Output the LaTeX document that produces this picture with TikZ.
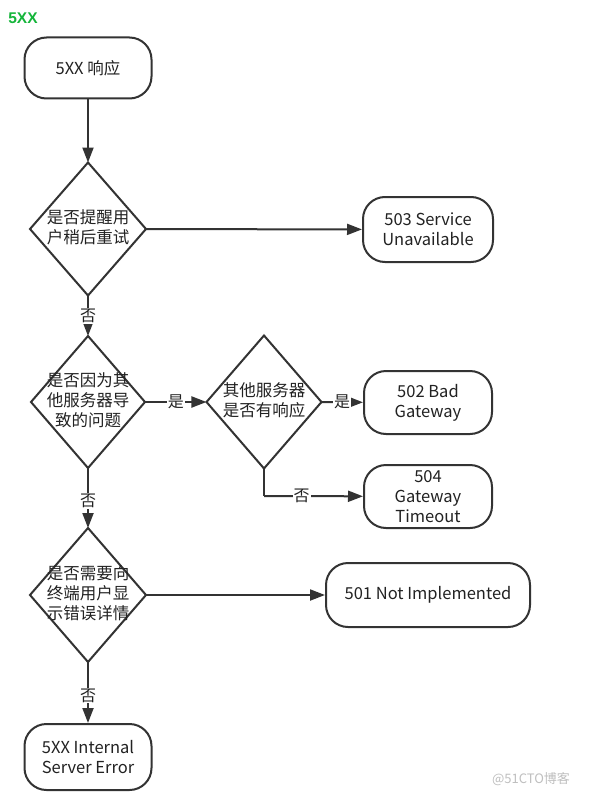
\documentclass[tikz,border=0pt]{standalone}
\usepackage{fontspec}
\setmainfont{Noto Sans CJK SC}
\newfontfamily\titlefont{Liberation Sans}
\usetikzlibrary{shapes.geometric,arrows.meta}
\definecolor{ink}{HTML}{333333}
\definecolor{txt}{HTML}{222222}
\definecolor{titlegreen}{HTML}{14B53A}
\tikzset{
  box/.style={draw=ink, line width=2pt, rounded corners=22pt, align=center,
    font=\fontsize{16.5}{20}\selectfont, text=txt, inner sep=0pt},
  dia/.style={draw=ink, line width=2pt, diamond, inner sep=0pt, outer sep=0pt},
  diatext/.style={align=center, font=\fontsize{16.5}{20}\selectfont, text=txt, inner sep=0pt},
  conn/.style={draw=ink, line width=2pt, -{Triangle[length=15pt,width=11pt]}},
  lbl/.style={fill=white, font=\fontsize{16}{17}\selectfont, text=txt, inner sep=1pt}
}
\begin{document}
\begin{tikzpicture}[x=1pt,y=-1pt]
\useasboundingbox[fill=white] (0,0) rectangle (596,797);
\node[font=\titlefont\bfseries\fontsize{15.5}{17}\selectfont, text=titlegreen] (title) at (23,18.5) {5XX};

\node[box, minimum width=127pt, minimum height=61pt] (start) at (88,68) {5XX 响应};

\node[dia, minimum width=116pt, minimum height=133pt] (d1) at (88,229) {};
\node[diatext] at ([yshift=1.5pt]d1.center) {是否提醒用\\户稍后重试};

\node[box, minimum width=130pt, minimum height=65pt] (b503) at (428,229.5) {503 Service\\Unavailable};

\node[dia, minimum width=114pt, minimum height=132pt] (d2) at (88,402) {};
\node[diatext] at ([yshift=1.5pt]d2.center) {是否因为其\\他服务器导\\致的问题};

\node[dia, minimum width=115pt, minimum height=133pt] (d3) at (264,402) {};
\node[diatext] at ([yshift=1.5pt]d3.center) {其他服务器\\是否有响应};

\node[box, minimum width=128pt, minimum height=63pt] (b502) at (428,402.5) {502 Bad\\Gateway};
\node[box, minimum width=128pt, minimum height=63pt] (b504) at (428,496.5) {504\\Gateway\\Timeout};

\node[dia, minimum width=116pt, minimum height=134pt] (d4) at (88,595) {};
\node[diatext] at ([yshift=1.5pt]d4.center) {是否需要向\\终端用户显\\示错误详情};

\node[box, minimum width=204pt, minimum height=64pt] (b501) at (428,595) {501 Not Implemented};

\node[box, minimum width=127pt, minimum height=66pt] (b500) at (88,757) {5XX Internal\\Server Error};

\coordinate (c3) at (264,496);

\draw[conn] (start) -- (d1);
\draw[conn] (d1) -- (b503);
\draw[conn] (d1) -- node[lbl] {否} (d2);
\draw[conn] (d2) -- node[lbl, pos=0.5] {是} (d3);
\draw[conn] (d3) -- node[lbl, pos=0.5] {是} (b502);
\draw[draw=ink, line width=2pt] (d3.south) -- (c3);
\draw[conn] (c3) -- node[lbl, pos=0.38] {否} (b504);
\draw[conn] (d2) -- node[lbl, pos=0.55] {否} (d4);
\draw[conn] (d4) -- (b501);
\draw[conn] (d4) -- node[lbl, pos=0.55] {否} (b500);

\node[text=black!25, font=\fontsize{13}{14}\selectfont] (wm) at (531,779) {@51CTO博客};
\end{tikzpicture}
\end{document}
